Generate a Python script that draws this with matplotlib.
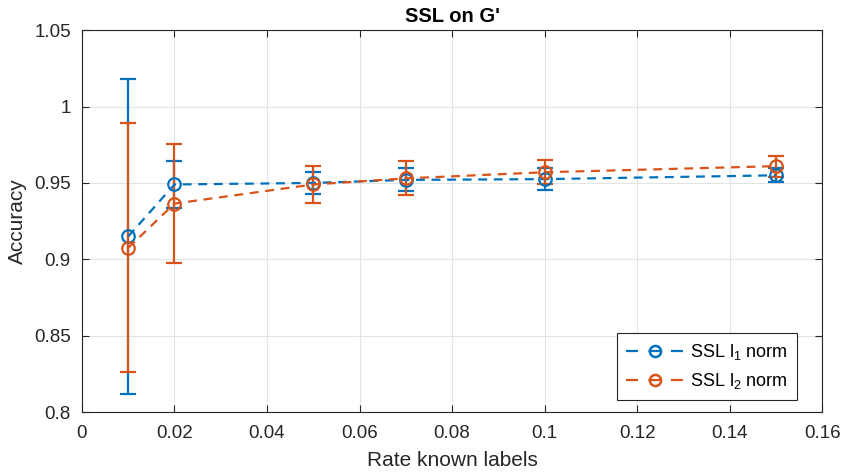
import matplotlib.pyplot as plt
from matplotlib.lines import Line2D
import numpy as np

plt.rcParams['font.family'] = ['Liberation Sans', 'DejaVu Sans']
plt.rcParams['mathtext.fontset'] = 'custom'
plt.rcParams['mathtext.rm'] = 'Liberation Sans'
plt.rcParams['mathtext.it'] = 'Liberation Sans'

# Data
rate = [0.01, 0.02, 0.05, 0.07, 0.10, 0.15]
acc_l1 = [0.915, 0.949, 0.950, 0.952, 0.9525, 0.955]
err_l1 = [0.103, 0.0155, 0.007, 0.0075, 0.007, 0.0045]
acc_l2 = [0.9075, 0.9365, 0.949, 0.953, 0.957, 0.961]
err_l2 = [0.0815, 0.039, 0.0122, 0.0112, 0.008, 0.0068]
labels = ['SSL l$_1$ norm', 'SSL l$_2$ norm']

blue = '#0072BD'
orange = '#D95319'
dark = '#262626'

fig = plt.figure(figsize=(8.45, 4.72), dpi=100)
ax = fig.add_axes([0.097, 0.127, 0.876, 0.809])

style = dict(ls='--', lw=1.6, marker='o', ms=9, mfc='none', mew=1.6,
             capsize=5.5, capthick=1.6, elinewidth=1.6, dashes=(4, 3))
ax.errorbar(rate, acc_l1, yerr=err_l1, color=blue, **style)
ax.errorbar(rate, acc_l2, yerr=err_l2, color=orange, **style)

ax.set_xlim(0, 0.16)
ax.set_ylim(0.8, 1.05)
xt = np.arange(0, 0.161, 0.02)
ax.set_xticks(xt)
ax.set_xticklabels(['0', '0.02', '0.04', '0.06', '0.08', '0.1', '0.12', '0.14', '0.16'])
yt = [0.8, 0.85, 0.9, 0.95, 1.0, 1.05]
ax.set_yticks(yt)
ax.set_yticklabels(['0.8', '0.85', '0.9', '0.95', '1', '1.05'])
ax.tick_params(direction='in', top=True, right=True, labelsize=13.5, length=5,
               colors=dark)
ax.tick_params(axis='x', pad=9)
ax.tick_params(axis='y', pad=8)
ax.grid(True, color='#e3e3e3', lw=0.8)
ax.set_axisbelow(True)
for s in ax.spines.values():
    s.set_color(dark)

ax.set_xlabel('Rate known labels', fontsize=15, color=dark, labelpad=7)
ax.set_ylabel('Accuracy', fontsize=15, color=dark, labelpad=5)
ax.set_title("SSL on G'", fontsize=14.5, fontweight='bold', pad=6)

handles = [Line2D([], [], color=c, ls='--', lw=1.6, dashes=(5.4, 4.7), marker='o',
                  ms=8, mfc='none', mew=1.8) for c in (blue, orange)]
leg = ax.legend(handles, labels, loc='lower right', bbox_to_anchor=(0.966, 0.031),
                borderaxespad=0, fontsize=13, fancybox=False, edgecolor=dark,
                framealpha=1, handlelength=3.15, handletextpad=0.4,
                borderpad=0.5, labelspacing=0.5)
leg.get_frame().set_linewidth(0.8)

fig.savefig('out.png', dpi=100)
